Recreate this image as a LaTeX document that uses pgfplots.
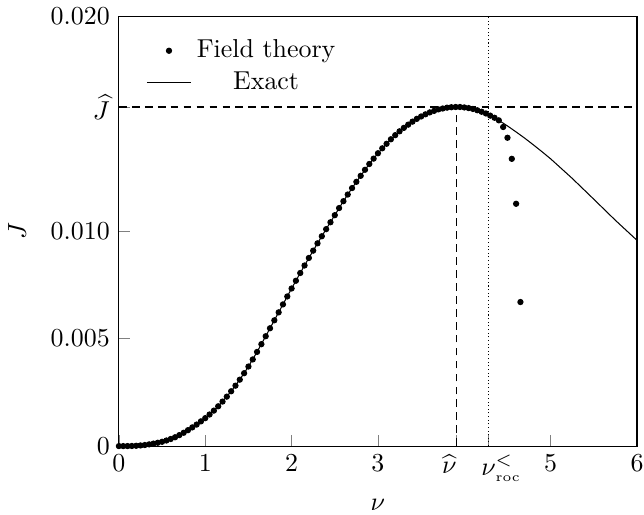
\documentclass[border=0pt]{standalone}
\usepackage{pgfplots}
\usepackage{pgfplotstable}
\pgfplotsset{compat=1.18}

% Field-theory current, sampled every 0.05 in nu
\pgfplotstableread{
nu J
0.00 0.000000
0.05 0.000000
0.10 0.000001
0.15 0.000005
0.20 0.000014
0.25 0.000030
0.30 0.000050
0.35 0.000080
0.40 0.000115
0.45 0.000155
0.50 0.000200
0.55 0.000260
0.60 0.000330
0.65 0.000410
0.70 0.000510
0.75 0.000620
0.80 0.000740
0.85 0.000870
0.90 0.001000
0.95 0.001150
1.00 0.001300
1.05 0.00147
1.10 0.00165
1.15 0.00185
1.20 0.00207
1.25 0.00230
1.30 0.00255
1.35 0.00281
1.40 0.00309
1.45 0.00339
1.50 0.00370
1.55 0.00403
1.60 0.00438
1.65 0.00474
1.70 0.00511
1.75 0.00548
1.80 0.00585
1.85 0.00622
1.90 0.00659
1.95 0.00696
2.00 0.00733
2.05 0.00769
2.10 0.00805
2.15 0.00840
2.20 0.00875
2.25 0.00909
2.30 0.00943
2.35 0.00976
2.40 0.01009
2.45 0.01041
2.50 0.01074
2.55 0.01107
2.60 0.01139
2.65 0.01170
2.70 0.01200
2.75 0.01229
2.80 0.01257
2.85 0.01285
2.90 0.01312
2.95 0.01337
3.00 0.01362
3.05 0.01385
3.10 0.01406
3.15 0.01427
3.20 0.01446
3.25 0.01464
3.30 0.01480
3.35 0.01495
3.40 0.01509
3.45 0.01522
3.50 0.01533
3.55 0.01543
3.60 0.01552
3.65 0.01559
3.70 0.01566
3.75 0.01570
3.80 0.01574
3.85 0.01576
3.90 0.01577
3.95 0.01577
4.00 0.01575
4.05 0.01572
4.10 0.01568
4.15 0.01562
4.20 0.01555
4.25 0.01547
4.30 0.01537
4.35 0.01527
4.40 0.01515
4.45 0.01484
4.50 0.01434
4.55 0.01336
4.60 0.01127
4.65 0.00670
}\fieldtheory

% Exact current
\pgfplotstableread{
nu J
0.00 0.000000
0.10 0.000001
0.20 0.000014
0.30 0.000050
0.40 0.000115
0.50 0.000200
0.60 0.000330
0.70 0.000510
0.80 0.000740
0.90 0.001000
1.00 0.001300
1.10 0.00165
1.20 0.00207
1.30 0.00255
1.40 0.00309
1.50 0.00370
1.60 0.00438
1.70 0.00511
1.80 0.00585
1.90 0.00659
2.00 0.00733
2.10 0.00805
2.20 0.00875
2.30 0.00943
2.40 0.01009
2.50 0.01074
2.60 0.01139
2.70 0.01200
2.80 0.01257
2.90 0.01312
3.00 0.01362
3.10 0.01406
3.20 0.01446
3.30 0.01480
3.40 0.01509
3.50 0.01533
3.60 0.01552
3.70 0.01566
3.80 0.01574
3.90 0.01577
4.00 0.01575
4.10 0.01568
4.20 0.01555
4.30 0.01537
4.40 0.01515
4.50 0.01489
4.60 0.01461
4.70 0.01432
4.80 0.01401
4.90 0.01369
5.00 0.01336
5.25 0.01245
5.50 0.01148
5.75 0.01050
6.00 0.00957
}\exact

\begin{document}
\begin{tikzpicture}
\begin{axis}[
  name=ax,
  scale only axis,
  width=200pt, height=166pt,
  xmin=0, xmax=6, ymin=0, ymax=0.02,
  tick pos=left,
  xtick={0,1,2,3,3.91,4.28,5,6},
  xticklabels={$0$,$1$,$2$,$3$,\llap{$\widehat{\nu}$},$\nu\rlap{$^{<}_{\scriptscriptstyle\mathrm{roc}}$}$,$5$,$6$},
  ytick={0,0.005,0.01,0.01577,0.02},
  yticklabels={$0$,$0.005$,$0.010$,$\widehat{J}$,$0.020$},
  scaled y ticks=false,
  xlabel={$\nu$}, ylabel={$J$},
  ylabel style={yshift=2.7pt},
  legend style={draw=none, fill=none, at={(0.037,0.97)}, anchor=north west},
  legend cell align=center,
]
\addplot[only marks, mark=*, mark size=1pt, black] table[x=nu, y=J] {\fieldtheory};
\addlegendentry{Field theory}
\addplot[black, thin, no marks] table[x=nu, y=J] {\exact};
\addlegendentry{Exact}
\addplot[black, dash pattern=on 3pt off 2pt, forget plot] coordinates {(0,0.01577) (6,0.01577)};
\addplot[black, dash pattern=on 3pt off 2pt, forget plot] coordinates {(3.91,0) (3.91,0.01577)};
\addplot[black, densely dotted, forget plot] coordinates {(4.28,0) (4.28,0.02)};
\end{axis}
% page extent: tight around the drawn content
\pgfresetboundingbox
\path ([shift={(-45.9pt,-26.3pt)}]ax.south west) rectangle ([shift={(2.7pt,6.2pt)}]ax.north east);
\end{tikzpicture}
\end{document}
